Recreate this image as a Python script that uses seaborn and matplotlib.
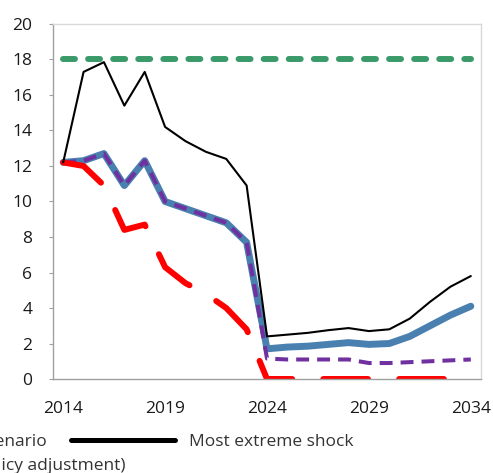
import matplotlib
matplotlib.use("Agg")
import matplotlib.pyplot as plt
from matplotlib.lines import Line2D
from matplotlib.ticker import FixedLocator
import seaborn as sns

years = list(range(2014, 2035))
threshold = [18.0] * 21
baseline = [12.2, 12.3, 12.7, 10.9, 12.3, 10.0, 9.6, 9.2, 8.8, 7.7, 1.7,
            1.8, 1.85, 1.95, 2.05, 1.95, 2.0, 2.4, 3.0, 3.6, 4.1]
no_policy = [12.2, 12.3, 12.7, 10.9, 12.3, 10.0, 9.6, 9.2, 8.8, 7.7, 1.15,
             1.1, 1.1, 1.1, 1.1, 0.9, 0.9, 0.95, 1.0, 1.05, 1.1]
historical = [12.2, 12.0, 10.9, 8.4, 8.7, 6.3, 5.4, 4.8, 4.0, 2.8, 0.0,
              0.0, 0.0, 0.0, 0.0, 0.0, 0.0, 0.0, 0.0, 0.0, 0.0]
extreme = [12.2, 17.3, 17.85, 15.4, 17.3, 14.2, 13.4, 12.8, 12.4, 10.9, 2.4,
           2.5, 2.6, 2.75, 2.87, 2.7, 2.8, 3.4, 4.35, 5.2, 5.8]

labels = ["Historical scenario", "Most extreme shock",
          "Baseline (no policy adjustment)"]
major_years = [2014, 2019, 2024, 2029, 2034]

sns.set_style("white")
plt.rcParams["font.family"] = ["Open Sans", "DejaVu Sans"]

fig = plt.figure(figsize=(4.93, 4.73), dpi=100)
ax = fig.add_axes([0.1075, 0.1987, 0.8682, 0.7506])

GREEN = "#3a9a6a"
BLUE = "#4a80b0"
PURPLE = "#7030a0"
RED = "#ff0000"

sns.lineplot(x=years, y=threshold, ax=ax, color=GREEN, lw=4.3,
             linestyle=(0, (2.0, 2.2)), dash_capstyle="round")
sns.lineplot(x=years, y=baseline, ax=ax, color=BLUE, lw=5.0,
             solid_joinstyle="round")
sns.lineplot(x=years, y=no_policy, ax=ax, color=PURPLE, lw=2.9,
             linestyle=(0, (3.2, 2.0)))
sns.lineplot(x=years, y=historical, ax=ax, color=RED, lw=4.3,
             linestyle=(0, (7.5, 5.2)), dash_capstyle="round")
sns.lineplot(x=years, y=extreme, ax=ax, color="black", lw=1.5)

ax.set_xlim(2013.5, 2034.5)
ax.set_ylim(0, 20)
ax.set_yticks(range(0, 21, 2))
ax.set_xticks(major_years)
ax.xaxis.set_minor_locator(FixedLocator([2018.5, 2023.5, 2028.5, 2033.5]))
ax.tick_params(axis="x", which="major", length=0, pad=16, labelsize=12.5,
               labelcolor="#1a1a1a")
ax.tick_params(axis="x", which="minor", direction="in", length=5,
               color="#d0d0d0", width=1)
ax.tick_params(axis="y", length=3, color="#a0a0a0", pad=12, labelsize=12.5,
               labelcolor="#1a1a1a", left=True)

for side in ["left", "bottom"]:
    ax.spines[side].set_color("#a0a0a0")
for side in ["top", "right"]:
    ax.spines[side].set_color("#d9d9d9")
for s in ax.spines.values():
    s.set_linewidth(1)

# legend sits partly outside the crop, as in the source picture
row1 = [Line2D([], [], color=RED, lw=3.6), Line2D([], [], color="black", lw=3.6)]
fig.legend(row1, labels[:2], loc="center left", bbox_to_anchor=(-0.48, 0.065),
           ncol=2, frameon=False, handlelength=6, handletextpad=0.8,
           columnspacing=1.4, fontsize=12.5, labelcolor="#333333")
row2 = [Line2D([], [], color=PURPLE, lw=3.6, linestyle=(0, (3.2, 2.0)))]
fig.legend(row2, labels[2:], loc="center left", bbox_to_anchor=(-0.53, 0.014),
           ncol=1, frameon=False, handlelength=6, handletextpad=0.8,
           fontsize=12.5, labelcolor="#333333")

fig.savefig("out.png", dpi=100)
